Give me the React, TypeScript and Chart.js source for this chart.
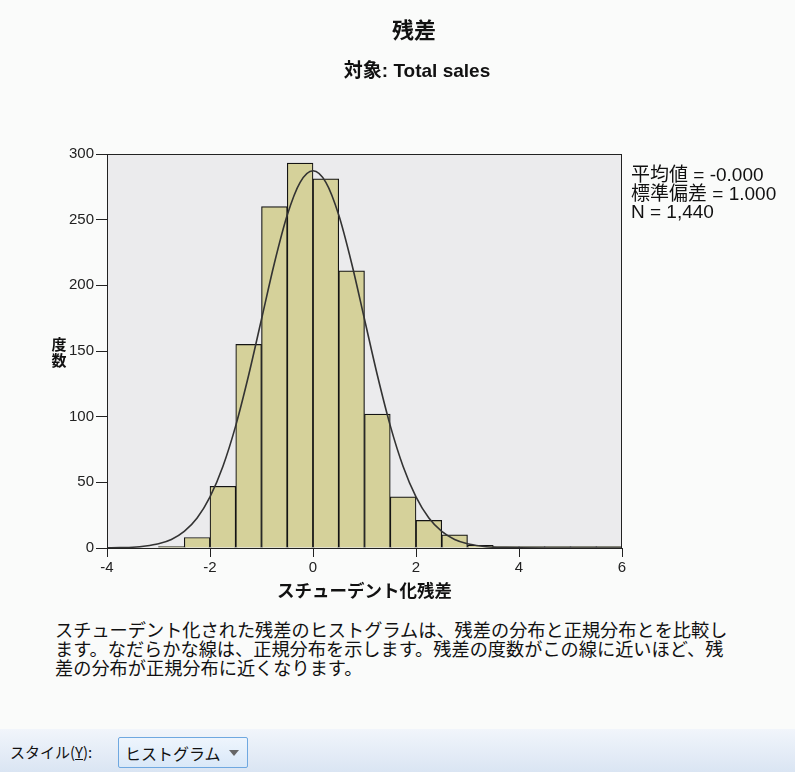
import React, { useEffect, useRef } from "react";
import { Chart, registerables } from "chart.js";

Chart.register(...registerables);

// ---- Data ----
const binCenters = [-2.75, -2.25, -1.75, -1.25, -0.75, -0.25, 0.25, 0.75, 1.25, 1.75, 2.25, 2.75, 3.25, 3.75, 4.25, 4.75, 5.25, 5.75];
const binCounts = [1, 8, 47, 155, 260, 293, 281, 211, 102, 39, 21, 10, 2, 1, 1, 1, 1, 1];

const curveX = [-4, -3.75, -3.5, -3.25, -3, -2.75, -2.5, -2.25, -2, -1.75, -1.5, -1.25, -1, -0.75, -0.5, -0.25, 0, 0.25, 0.5, 0.75, 1, 1.25, 1.5, 1.75, 2, 2.25, 2.5, 2.75, 3, 3.25, 3.5, 3.75, 4, 4.5, 5, 5.5, 6];
const curveY = [0.1, 0.3, 0.6, 1.5, 3.2, 6.5, 12.6, 22.8, 38.9, 62.1, 93.2, 131.5, 174.2, 216.8, 253.5, 278.4, 287.2, 278.4, 253.5, 216.8, 174.2, 131.5, 93.2, 62.1, 38.9, 22.8, 12.6, 6.5, 3.2, 1.5, 0.6, 0.3, 0.1, 0, 0, 0, 0];

const titleText = "残差";
const subtitleText = "対象: Total sales";
const xTitle = "スチューデント化残差";
const yTitleChars = ["度", "数"];
const statsLines = ["平均値 = -0.000", "標準偏差 = 1.000", "N = 1,440"];
const descLines = [
  "スチューデント化された残差のヒストグラムは、残差の分布と正規分布とを比較し",
  "ます。なだらかな線は、正規分布を示します。残差の度数がこの線に近いほど、残",
  "差の分布が正規分布に近くなります。",
];

const SANS = "'Liberation Sans', Arial, 'Noto Sans CJK JP', sans-serif";
const CJK = "'Noto Sans CJK JP', 'Liberation Sans', sans-serif";

const decorPlugin = {
  id: "decor",
  beforeDraw(chart: any) {
    const { ctx, chartArea } = chart;
    ctx.save();
    ctx.fillStyle = "#EBEBED";
    ctx.fillRect(chartArea.left, chartArea.top, chartArea.right - chartArea.left, chartArea.bottom - chartArea.top);
    ctx.restore();
  },
  afterDraw(chart: any) {
    const { ctx, chartArea } = chart;
    ctx.save();
    // frame
    ctx.strokeStyle = "#222";
    ctx.lineWidth = 1;
    ctx.strokeRect(Math.round(chartArea.left) + 0.5, Math.round(chartArea.top) + 0.5, Math.round(chartArea.right - chartArea.left) - 1, Math.round(chartArea.bottom - chartArea.top));
    // titles
    ctx.fillStyle = "#111";
    ctx.textAlign = "center";
    ctx.textBaseline = "middle";
    ctx.font = "bold 22px " + SANS;
    ctx.fillText(titleText, 414, 32);
    ctx.font = "bold 19px " + SANS;
    ctx.fillText(subtitleText, 417, 72);
    // y title stacked
    ctx.font = "bold 15px " + CJK;
    yTitleChars.forEach((c, i) => ctx.fillText(c, 59, 344 + i * 16));
    // stats
    ctx.textAlign = "left";
    ctx.font = "19px " + SANS;
    statsLines.forEach((s, i) => ctx.fillText(s, chartArea.right + 9, 176 + i * 18.5));
    ctx.restore();
  },
};

export default function App() {
  const ref = useRef<HTMLCanvasElement | null>(null);
  useEffect(() => {
    document.body.style.margin = "0";
    const canvas = ref.current;
    if (!canvas) return;
    const chart = new Chart(canvas, {
      type: "bar",
      data: {
        datasets: [
          {
            type: "bar",
            data: binCenters.map((x, i) => ({ x, y: binCounts[i] })),
            backgroundColor: "#D5D19A",
            borderColor: "#141414",
            borderWidth: 1.2,
            barPercentage: 1,
            categoryPercentage: 1,
            order: 2,
          } as any,
          {
            type: "line",
            data: curveX.map((x, i) => ({ x, y: curveY[i] })),
            borderColor: "#333",
            borderWidth: 1.6,
            pointRadius: 0,
            fill: false,
            cubicInterpolationMode: "monotone",
            order: 1,
          } as any,
        ],
      },
      options: {
        animation: false,
        responsive: false,
        maintainAspectRatio: false,
        layout: { padding: { left: 0, right: 173, top: 154, bottom: 0 } },
        plugins: { legend: { display: false }, tooltip: { enabled: false }, title: { display: false } },
        scales: {
          x: {
            type: "linear",
            min: -4,
            max: 6,
            offset: false,
            grid: { display: true, drawOnChartArea: false, drawTicks: true, tickLength: 9, color: "#222", offset: false },
            border: { display: true, color: "#222" },
            ticks: { stepSize: 2, font: { size: 15, family: SANS }, color: "#222", padding: 2, maxRotation: 0 },
            title: { display: true, text: xTitle, font: { size: 17.5, weight: "bold", family: CJK }, color: "#111", padding: { top: 4, bottom: 9 } },
            afterFit(scale: any) { scale.height = 62; },
          },
          y: {
            min: 0,
            max: 300,
            grid: { display: true, drawOnChartArea: false, drawTicks: true, tickLength: 11, color: "#222" },
            border: { display: true, color: "#222" },
            ticks: { stepSize: 50, font: { size: 15, family: SANS }, color: "#222", padding: 2 },
            afterFit(scale: any) { scale.width = 107; },
          },
        },
      } as any,
      plugins: [decorPlugin],
    });
    return () => chart.destroy();
  }, []);

  return (
    <div style={{ position: "relative", width: 795, height: 772, background: "#FAFBFA", overflow: "hidden" }}>
      <canvas ref={ref} width={795} height={610} style={{ display: "block", width: 795, height: 610 }} />
      <div style={{ position: "absolute", left: 55, top: 620, fontFamily: CJK, fontSize: 18.2, lineHeight: "19px", color: "#111", whiteSpace: "nowrap" }}>
        {descLines.map((l, i) => (
          <div key={i}>{l}</div>
        ))}
      </div>
      <div style={{ position: "absolute", left: 0, top: 729, width: 795, height: 43, background: "linear-gradient(#F1F5FB, #DAE5F3)" }}>
        <div style={{ position: "absolute", left: 10, top: 12, fontFamily: CJK, fontSize: 15, color: "#111", whiteSpace: "nowrap" }}>
          スタイル(<span style={{ textDecoration: "underline" }}>Y</span>):
        </div>
        <div style={{ position: "absolute", left: 118, top: 8, width: 128, height: 29, border: "1px solid #6FA8E0", borderRadius: 2, background: "linear-gradient(#EEF5FD, #D9E8F8)", fontFamily: CJK, fontSize: 16, color: "#111", whiteSpace: "nowrap" }}>
          <span style={{ position: "absolute", left: 6, top: 3 }}>ヒストグラム</span>
          <span style={{ position: "absolute", right: 8, top: 12, width: 0, height: 0, borderLeft: "5px solid transparent", borderRight: "5px solid transparent", borderTop: "6px solid #666" }} />
        </div>
      </div>
    </div>
  );
}
